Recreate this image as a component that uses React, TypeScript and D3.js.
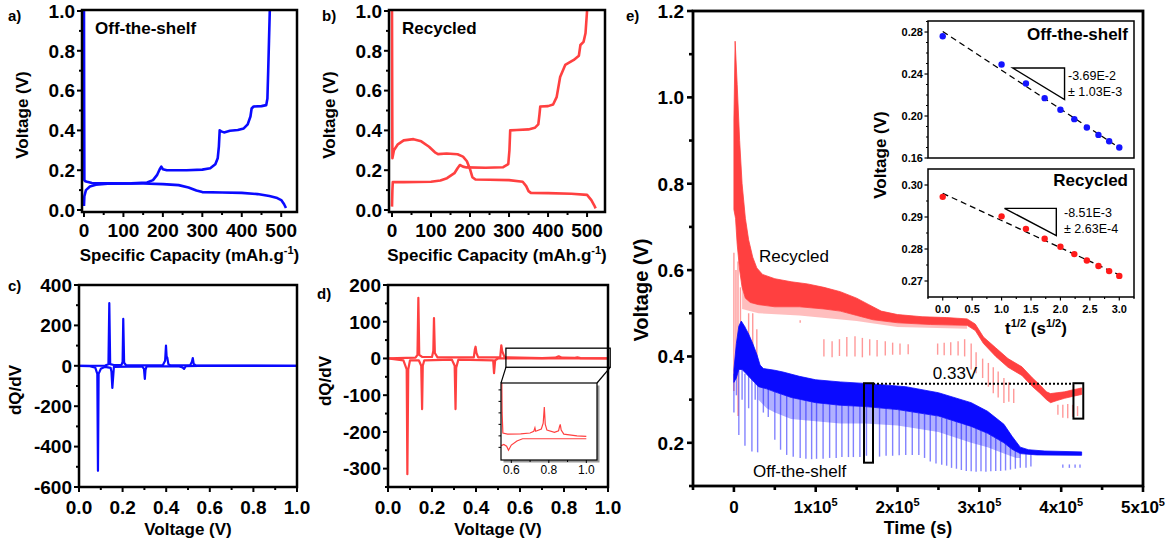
import React from 'react';
import * as d3 from 'd3';

const FONT = "'Liberation Sans', Arial, Helvetica, sans-serif";
const BLUE = '#0a0aff';
const RED = '#ff4040';
const LIGHT_BLUE = 'rgba(30,30,255,0.55)';
const LIGHT_RED = 'rgba(255,70,70,0.55)';
const FRINGE_BLUE = 'rgba(30,30,255,0.35)';
const FRINGE_RED = 'rgba(255,70,70,0.35)';

type P = [number, number];

// ---------- a) Off-the-shelf: capacity (mAh/g) vs voltage ----------
const offCharge: P[] = [[0, 0.02], [1, 0.07], [5, 0.1], [15, 0.118], [30, 0.127], [60, 0.132], [120, 0.134], [160, 0.138], [175, 0.15], [185, 0.175], [192, 0.205], [196, 0.218], [200, 0.205], [210, 0.2], [260, 0.2], [300, 0.203], [320, 0.21], [333, 0.23], [339, 0.26], [342, 0.32], [344, 0.4], [348, 0.395], [355, 0.39], [370, 0.398], [390, 0.402], [405, 0.41], [415, 0.43], [422, 0.47], [425, 0.51], [430, 0.52], [450, 0.522], [462, 0.527], [465, 0.56], [467, 0.7], [469, 0.85], [471, 1.0]];
const offDischarge: P[] = [[0, 1.0], [0.5, 0.5], [1, 0.15], [3, 0.145], [8, 0.142], [20, 0.136], [60, 0.134], [150, 0.133], [200, 0.13], [240, 0.125], [265, 0.113], [285, 0.098], [300, 0.09], [350, 0.088], [400, 0.086], [440, 0.08], [470, 0.07], [490, 0.06], [500, 0.05], [507, 0.03], [512, 0.01]];

// ---------- b) Recycled ----------
const recCharge: P[] = [[0, 0.017], [1, 0.1], [2, 0.14], [30, 0.14], [100, 0.142], [124, 0.148], [141, 0.16], [160, 0.185], [168, 0.21], [174, 0.226], [182, 0.218], [191, 0.214], [240, 0.212], [285, 0.215], [298, 0.23], [301, 0.3], [303, 0.4], [320, 0.402], [350, 0.405], [366, 0.413], [375, 0.43], [378, 0.48], [380, 0.52], [400, 0.522], [413, 0.53], [422, 0.567], [431, 0.668], [444, 0.729], [466, 0.754], [479, 0.775], [483, 0.829], [491, 0.845], [496, 0.888], [500, 1.0]];
const recDischarge: P[] = [[0, 1.0], [0.5, 0.6], [1, 0.26], [5, 0.3], [15, 0.33], [30, 0.35], [55, 0.356], [75, 0.345], [95, 0.318], [110, 0.29], [118, 0.281], [140, 0.284], [168, 0.28], [182, 0.268], [192, 0.245], [200, 0.205], [206, 0.165], [214, 0.153], [250, 0.152], [300, 0.15], [335, 0.142], [344, 0.12], [350, 0.095], [356, 0.086], [400, 0.085], [460, 0.082], [500, 0.076], [511, 0.05], [518, 0.025], [522, 0.008]];

const capTicks = [0, 100, 200, 300, 400, 500];
const capMinor = [50, 150, 250, 350, 450];
const voltTicks = [0, 0.2, 0.4, 0.6, 0.8, 1.0];
const voltMinor = [0.1, 0.3, 0.5, 0.7, 0.9];

// ---------- c) dQ/dV off-the-shelf ----------
const cCharge: P[] = [[0, 0], [0.12, 1], [0.135, 8], [0.139, 310], [0.143, 8], [0.16, 4], [0.195, 5], [0.2, 20], [0.203, 232], [0.207, 15], [0.215, 4], [0.3, 2], [0.385, 4], [0.395, 25], [0.399, 100], [0.402, 45], [0.405, 40], [0.41, 8], [0.42, 2], [0.51, 3], [0.518, 20], [0.522, 38], [0.526, 10], [0.535, 2], [1.0, 0]];
const cDischarge: P[] = [[1.0, 0], [0.55, 0], [0.49, -2], [0.482, -15], [0.475, -8], [0.46, -3], [0.31, -3], [0.305, -20], [0.302, -65], [0.298, -15], [0.29, -3], [0.16, -5], [0.153, -110], [0.149, -30], [0.145, -10], [0.12, -5], [0.1, -15], [0.09, -40], [0.087, -520], [0.084, -40], [0.075, -10], [0.05, -2], [0.0, 0]];
const cTicks = [-600, -400, -200, 0, 200, 400];
const cMinor = [-500, -300, -100, 100, 300];
const vTicks01 = [0, 0.2, 0.4, 0.6, 0.8, 1.0];
const vMinor01 = [0.1, 0.3, 0.5, 0.7, 0.9];

// ---------- d) dQ/dV recycled ----------
const dCharge: P[] = [[0, 0], [0.125, 2], [0.134, 10], [0.138, 165], [0.142, 10], [0.155, 4], [0.2, 4], [0.206, 20], [0.209, 110], [0.213, 15], [0.225, 3], [0.39, 3], [0.395, 25], [0.398, 32], [0.402, 15], [0.41, 3], [0.51, 3], [0.515, 36], [0.519, 20], [0.53, 3], [0.7, 1], [0.76, 2], [0.776, 6], [0.79, 2], [0.85, 1.5], [0.861, 3], [0.875, 1], [1.0, 0]];
const dDischarge: P[] = [[1.0, 0], [0.5, 0], [0.487, -5], [0.482, -40], [0.478, -5], [0.32, -3], [0.31, -25], [0.307, -138], [0.303, -20], [0.29, -3], [0.165, -5], [0.158, -20], [0.155, -138], [0.151, -20], [0.14, -5], [0.1, -5], [0.092, -30], [0.088, -315], [0.085, -30], [0.07, -5], [0, 0]];
const dTicks = [-300, -200, -100, 0, 100, 200];
const dMinor = [-350, -250, -150, -50, 50, 150];
const dInsetCharge: P[] = [[0.548, 14], [0.551, 4], [0.555, 0.5], [0.58, 0.3], [0.65, 0.35], [0.7, 0.5], [0.72, 0.8], [0.726, 1.4], [0.73, 0.8], [0.76, 1.2], [0.77, 2.2], [0.776, 5], [0.781, 2], [0.79, 1], [0.83, 0.6], [0.852, 0.9], [0.857, 1.6], [0.861, 2.0], [0.866, 1.0], [0.88, 0.3], [0.95, 0], [1.0, -0.1]];
const dInsetDischarge: P[] = [[1.0, -0.5], [0.8, -0.5], [0.66, -0.5], [0.63, -0.9], [0.6, -1.6], [0.585, -2.5], [0.575, -1.8], [0.56, -1.5], [0.546, -1.7]];
const dZoomBox = { v0: 0.536, v1: 1.01, q0: -24, q1: 28 };
const dInsetTicks = [0.6, 0.8, 1.0];
const dInsetYTicks = [-2, 0, 2, 4, 6, 8];

// ---------- e) voltage vs time ----------
const blueUpper: P[] = [[0, 0.37], [3e3, 0.43], [6e3, 0.47], [9e3, 0.482], [1.3e4, 0.47], [1.8e4, 0.452], [2.3e4, 0.43], [2.8e4, 0.405], [3.2e4, 0.38], [3.6e4, 0.372], [5e4, 0.368], [6e4, 0.364], [8e4, 0.354], [1e5, 0.346], [1.3e5, 0.341], [1.65e5, 0.337], [2.1e5, 0.33], [2.5e5, 0.316], [2.9e5, 0.293], [3.1e5, 0.273], [3.3e5, 0.243], [3.4e5, 0.215], [3.5e5, 0.19], [3.6e5, 0.184], [3.8e5, 0.181], [4.25e5, 0.179]];
const blueLower: P[] = [[0, 0.34], [3e3, 0.35], [6e3, 0.37], [1e4, 0.37], [1.5e4, 0.36], [2e4, 0.35], [2.5e4, 0.34], [3e4, 0.33], [4e4, 0.325], [5e4, 0.318], [7e4, 0.305], [1e5, 0.293], [1.3e5, 0.287], [1.6e5, 0.284], [2e5, 0.277], [2.5e5, 0.262], [2.9e5, 0.238], [3.1e5, 0.222], [3.3e5, 0.2], [3.4e5, 0.185], [3.5e5, 0.175], [3.7e5, 0.172], [4.25e5, 0.171]];
const blueFringe: P[] = [[3e4, 0.3], [4e4, 0.28], [5e4, 0.27], [7e4, 0.255], [1e5, 0.25], [1.3e5, 0.245], [1.6e5, 0.245], [2e5, 0.24], [2.5e5, 0.225], [2.9e5, 0.2], [3.1e5, 0.19], [3.3e5, 0.175], [3.45e5, 0.165], [3.5e5, 0.165]];
// [time, top V, bottom V]
const blueSpikes: [number, number, number][] = [[0, 0.36, 0.27], [3e3, 0.36, 0.31], [6e3, 0.37, 0.218], [1e4, 0.37, 0.3], [1.35e4, 0.36, 0.193], [1.8e4, 0.36, 0.28], [2.2e4, 0.35, 0.18], [2.6e4, 0.345, 0.3], [2.9e4, 0.34, 0.178], [3.6e4, 0.33, 0.27], [4.2e4, 0.325, 0.26], [5e4, 0.32, 0.207], [5.7e4, 0.315, 0.184], [6.45e4, 0.31, 0.172], [7.25e4, 0.305, 0.168], [8.1e4, 0.3, 0.165], [8.8e4, 0.298, 0.163], [9.5e4, 0.295, 0.162], [1.01e5, 0.293, 0.163], [1.09e5, 0.291, 0.163], [1.17e5, 0.289, 0.165], [1.25e5, 0.288, 0.165], [1.32e5, 0.287, 0.167], [1.4e5, 0.286, 0.167], [1.46e5, 0.286, 0.167], [1.54e5, 0.285, 0.167], [1.62e5, 0.284, 0.17], [1.7e5, 0.283, 0.168], [1.78e5, 0.281, 0.168], [1.86e5, 0.28, 0.17], [1.94e5, 0.279, 0.17], [2.02e5, 0.277, 0.171], [2.1e5, 0.275, 0.172], [2.18e5, 0.272, 0.172], [2.26e5, 0.269, 0.172], [2.33e5, 0.267, 0.165], [2.4e5, 0.265, 0.157], [2.47e5, 0.262, 0.152], [2.54e5, 0.258, 0.149], [2.6e5, 0.255, 0.147], [2.66e5, 0.252, 0.142], [2.72e5, 0.249, 0.14], [2.78e5, 0.245, 0.137], [2.84e5, 0.242, 0.135], [2.9e5, 0.238, 0.134], [2.96e5, 0.234, 0.133], [3.02e5, 0.229, 0.134], [3.08e5, 0.224, 0.133], [3.14e5, 0.218, 0.134], [3.2e5, 0.212, 0.135], [3.26e5, 0.205, 0.135], [3.32e5, 0.198, 0.136], [3.38e5, 0.19, 0.138], [3.44e5, 0.182, 0.14], [3.5e5, 0.176, 0.142], [3.57e5, 0.174, 0.142], [3.63e5, 0.173, 0.145], [4.02e5, 0.15, 0.142], [4.1e5, 0.15, 0.142], [4.17e5, 0.15, 0.142], [4.23e5, 0.15, 0.142]];

const redUpper: P[] = [[0, 0.95], [1.5e3, 1.13], [4e3, 1.03], [7e3, 0.9], [1.0e4, 0.8], [1.4e4, 0.72], [1.8e4, 0.67], [2.3e4, 0.63], [2.8e4, 0.605], [3.5e4, 0.59], [5e4, 0.58], [7e4, 0.573], [9e4, 0.568], [1.1e5, 0.56], [1.3e5, 0.55], [1.5e5, 0.535], [1.65e5, 0.52], [1.8e5, 0.505], [2e5, 0.497], [2.3e5, 0.492], [2.6e5, 0.49], [2.85e5, 0.487], [2.95e5, 0.475], [3.05e5, 0.445], [3.2e5, 0.42], [3.35e5, 0.395], [3.52e5, 0.376], [3.65e5, 0.35], [3.74e5, 0.334], [3.82e5, 0.318], [3.87e5, 0.314], [3.95e5, 0.316], [4.04e5, 0.318], [4.15e5, 0.323], [4.25e5, 0.327]];
const redLower: P[] = [[0, 0.74], [2e3, 0.72], [4e3, 0.66], [7e3, 0.6], [1e4, 0.56], [1.4e4, 0.535], [2e4, 0.525], [3e4, 0.52], [5e4, 0.515], [8e4, 0.515], [1.1e5, 0.51], [1.3e5, 0.505], [1.5e5, 0.495], [1.7e5, 0.485], [2e5, 0.478], [2.4e5, 0.474], [2.85e5, 0.472], [2.95e5, 0.46], [3.05e5, 0.43], [3.2e5, 0.4], [3.35e5, 0.375], [3.52e5, 0.356], [3.65e5, 0.33], [3.74e5, 0.315], [3.82e5, 0.3], [3.87e5, 0.293], [3.95e5, 0.298], [4.04e5, 0.303], [4.15e5, 0.308], [4.25e5, 0.312]];
const redFringe: P[] = [[1e4, 0.51], [3e4, 0.5], [8e4, 0.495], [1.5e5, 0.482], [2e5, 0.468], [2.85e5, 0.464]];
const redSpikes: [number, number, number][] = [[0, 0.64, 0.32], [2.5e3, 0.6, 0.36], [5e3, 0.62, 0.262], [8e3, 0.56, 0.37], [1.3e4, 0.47, 0.397], [1.8e4, 0.5, 0.41], [2.3e4, 0.5, 0.42], [2.8e4, 0.463, 0.397], [8.1e4, 0.484, 0.478], [1.1e5, 0.44, 0.4], [1.2e5, 0.435, 0.398], [1.29e5, 0.44, 0.401], [1.38e5, 0.445, 0.4], [1.48e5, 0.447, 0.4], [1.57e5, 0.443, 0.398], [1.66e5, 0.44, 0.402], [1.75e5, 0.438, 0.4], [1.85e5, 0.435, 0.402], [1.94e5, 0.432, 0.404], [2.03e5, 0.43, 0.404], [2.13e5, 0.428, 0.405], [2.49e5, 0.43, 0.404], [2.57e5, 0.432, 0.403], [2.65e5, 0.433, 0.403], [2.74e5, 0.435, 0.402], [2.82e5, 0.44, 0.4], [2.9e5, 0.43, 0.37], [2.96e5, 0.41, 0.361], [3.04e5, 0.395, 0.35], [3.11e5, 0.385, 0.33], [3.17e5, 0.375, 0.315], [3.23e5, 0.365, 0.305], [3.3e5, 0.35, 0.292], [3.36e5, 0.34, 0.295], [3.42e5, 0.325, 0.292], [3.96e5, 0.288, 0.265], [4.02e5, 0.288, 0.258], [4.08e5, 0.29, 0.257], [4.14e5, 0.288, 0.26], [4.2e5, 0.285, 0.262]];

const timeTicks = [0, 1e5, 2e5, 3e5, 4e5, 5e5];
const timeMinor = [-5e4, 5e4, 1.5e5, 2.5e5, 3.5e5, 4.5e5];
const eVTicks = [0.2, 0.4, 0.6, 0.8, 1.0, 1.2];
const eVMinor = [0.1, 0.3, 0.5, 0.7, 0.9, 1.1];
const dottedV = 0.337;
const markBoxes = [{ t0: 1.59e5, t1: 1.7e5, v0: 0.154, v1: 0.338 }, { t0: 4.15e5, t1: 4.27e5, v0: 0.256, v1: 0.338 }];

// ---------- e) insets ----------
const sqrtT = [0, 1, 1.414, 1.732, 2, 2.236, 2.449, 2.646, 2.828, 3];
const offInsetV = [0.276, 0.249, 0.231, 0.217, 0.206, 0.197, 0.189, 0.182, 0.176, 0.170];
const recInsetV = [0.2963, 0.2902, 0.2863, 0.2832, 0.2807, 0.2784, 0.2764, 0.2747, 0.2731, 0.2716];
const offFit: P[] = [[0, 0.2805], [3, 0.1698]];
const recFit: P[] = [[0, 0.2974], [3, 0.2719]];
const offTri: P[] = [[1.19, 0.2457], [2.07, 0.2457], [2.07, 0.2157]];
const recTri: P[] = [[1.05, 0.2927], [1.93, 0.2927], [1.93, 0.2842]];
const offInsetTicks = [0.16, 0.2, 0.24, 0.28];
const offInsetMinor = [0.17, 0.18, 0.19, 0.21, 0.22, 0.23, 0.25, 0.26, 0.27, 0.29];
const recInsetTicks = [0.27, 0.28, 0.29, 0.3];
const recInsetMinor = [0.275, 0.285, 0.295];
const sqrtTicks = [0, 0.5, 1, 1.5, 2, 2.5, 3];
const sqrtMinor = [-0.25, 0.25, 0.75, 1.25, 1.75, 2.25, 2.75, 3.25];

type Scale = (v: number) => number;

const TICK_FS = 19;

function YAxis({ s, x, major, minor, fmt, fs = TICK_FS, len = 5, mlen = 3, sw = 2, gap = 2, weight = 'bold' }: any) {
  return (
    <g>
      {major.map((v: number) => <line key={'M' + v} x1={x} x2={x - len} y1={s(v)} y2={s(v)} stroke="#000" strokeWidth={sw} />)}
      {minor.map((v: number) => <line key={'m' + v} x1={x} x2={x - mlen} y1={s(v)} y2={s(v)} stroke="#000" strokeWidth={sw} />)}
      {fmt && major.map((v: number) => (
        <text key={'t' + v} x={x - len - gap} y={s(v)} dy="0.36em" textAnchor="end" fontSize={fs} fontWeight={weight}>{fmt(v)}</text>
      ))}
    </g>
  );
}

function XAxis({ s, y, major, minor, fmt, fs = TICK_FS, len = 5, mlen = 3, sw = 2, ty, weight = 'bold' }: any) {
  return (
    <g>
      {major.map((v: number) => <line key={'M' + v} x1={s(v)} x2={s(v)} y1={y} y2={y + len} stroke="#000" strokeWidth={sw} />)}
      {minor.map((v: number) => <line key={'m' + v} x1={s(v)} x2={s(v)} y1={y} y2={y + mlen} stroke="#000" strokeWidth={sw} />)}
      {fmt && major.map((v: number) => (
        <text key={'t' + v} x={s(v)} y={ty} textAnchor="middle" fontSize={fs} fontWeight={weight}>{fmt(v)}</text>
      ))}
    </g>
  );
}

function Frame({ x0, x1, y0, y1, sw = 2.5 }: any) {
  return <rect x={x0} y={y0} width={x1 - x0} height={y1 - y0} fill="none" stroke="#000" strokeWidth={sw} />;
}

const f1 = (v: number) => v.toFixed(1);
const f0 = (v: number) => String(v);
const f2 = (v: number) => v.toFixed(2);

function CapacityPanel({ x0, x1, xDom, charge, discharge, color, label, letter, letterX }: any) {
  const y0 = 10, y1 = 212;
  const xs = d3.scaleLinear().domain(xDom).range([x0, x1]);
  const ys = d3.scaleLinear().domain([-0.01, 1.005]).range([y1, y0]);
  const line = d3.line<P>().x(d => xs(d[0])).y(d => ys(d[1]));
  const cx = (x0 + x1) / 2;
  return (
    <g>
      <path d={line(charge) || ''} fill="none" stroke={color} strokeWidth={2.6} strokeLinejoin="round" />
      <path d={line(discharge) || ''} fill="none" stroke={color} strokeWidth={2.6} strokeLinejoin="round" />
      <Frame x0={x0} x1={x1} y0={y0} y1={y1} />
      <YAxis s={ys} x={x0} major={voltTicks} minor={voltMinor} fmt={f1} />
      <XAxis s={xs} y={y1} major={capTicks} minor={capMinor} fmt={f0} ty={237} />
      <text x={x0 + 13} y={34} fontSize={17} fontWeight="bold">{label}</text>
      <text x={cx} y={261} textAnchor="middle" fontSize={17} fontWeight="bold">Specific Capacity (mAh.g<tspan dy={-7} fontSize={11}>-1</tspan><tspan dy={7}>)</tspan></text>
      <text transform={`translate(${x0 - 60},115) rotate(-90)`} textAnchor="middle" dy="0.35em" fontSize={17} fontWeight="bold">Voltage (V)</text>
      <text x={letterX} y={21} fontSize={15} fontWeight="bold">{letter}</text>
    </g>
  );
}

function DqPanel({ x0, x1, yDom, major, minor, charge, discharge, color, letter, letterX, letterY, titleX, titleY, children }: any) {
  const y0 = 285, y1 = 487;
  const xs = d3.scaleLinear().domain([0, 1]).range([x0, x1]);
  const ys = d3.scaleLinear().domain(yDom).range([y1, y0]);
  const line = d3.line<P>().x(d => xs(d[0])).y(d => ys(d[1]));
  return (
    <g>
      <path d={line(discharge) || ''} fill="none" stroke={color} strokeWidth={2.2} strokeLinejoin="round" />
      <path d={line(charge) || ''} fill="none" stroke={color} strokeWidth={2.2} strokeLinejoin="round" />
      <Frame x0={x0} x1={x1} y0={y0} y1={y1} />
      <YAxis s={ys} x={x0} major={major} minor={minor} fmt={f0} />
      <XAxis s={xs} y={y1} major={vTicks01} minor={vMinor01} fmt={f1} ty={514} />
      <text x={(x0 + x1) / 2} y={535} textAnchor="middle" fontSize={17} fontWeight="bold">Voltage (V)</text>
      <text transform={`translate(${titleX},${titleY}) rotate(-90)`} textAnchor="middle" dy="0.35em" fontSize={17} fontWeight="bold">dQ/dV</text>
      <text x={letterX} y={letterY} fontSize={15} fontWeight="bold">{letter}</text>
      {children && children(xs, ys)}
    </g>
  );
}

function DInset({ xs, ys }: { xs: Scale; ys: Scale }) {
  const bx0 = xs(dZoomBox.v0), bx1 = xs(dZoomBox.v1), by0 = ys(dZoomBox.q1), by1 = ys(dZoomBox.q0);
  const ix0 = 501, ix1 = 597, iy0 = 383, iy1 = 460;
  const ixs = d3.scaleLinear().domain([0.545, 1.057]).range([ix0, ix1]);
  const iys = d3.scaleLinear().domain([-4.2, 9.2]).range([iy1, iy0]);
  const line = d3.line<P>().x(d => ixs(d[0])).y(d => iys(d[1]));
  return (
    <g>
      <rect x={bx0} y={by0} width={bx1 - bx0} height={by1 - by0} fill="none" stroke="#000" strokeWidth={1.3} />
      <line x1={bx0} y1={by1} x2={ix0} y2={iy0} stroke="#000" strokeWidth={1.2} />
      <line x1={bx1} y1={by1} x2={ix1} y2={iy0} stroke="#000" strokeWidth={1.2} />
      <rect x={ix0 + 2.5} y={iy0 + 2.5} width={ix1 - ix0} height={iy1 - iy0} fill="#9a9a9a" />
      <rect x={ix0} y={iy0} width={ix1 - ix0} height={iy1 - iy0} fill="#fff" />
      <clipPath id="dinsetclip"><rect x={ix0} y={iy0} width={ix1 - ix0} height={iy1 - iy0} /></clipPath>
      <g clipPath="url(#dinsetclip)">
        <path d={line(dInsetDischarge) || ''} fill="none" stroke={RED} strokeWidth={1.2} />
        <path d={line(dInsetCharge) || ''} fill="none" stroke={RED} strokeWidth={1.2} />
      </g>
      <rect x={ix0} y={iy0} width={ix1 - ix0} height={iy1 - iy0} fill="none" stroke="#000" strokeWidth={1.2} />
      <YAxis s={iys} x={ix0} major={dInsetYTicks} minor={[]} len={2.5} sw={1} />
      <XAxis s={ixs} y={iy1} major={dInsetTicks} minor={[0.7, 0.9]} len={3} mlen={2} sw={1} fmt={f1} fs={12} ty={iy1 + 14} weight="normal" />
    </g>
  );
}

function TimePanel() {
  const x0 = 693, x1 = 1143, y0 = 11, y1 = 486;
  const xs = d3.scaleLinear().domain([-5e4, 5e5]).range([x0, x1]);
  const ys = d3.scaleLinear().domain([0.1, 1.2]).range([y1, y0]);
  const line = d3.line<P>().x(d => xs(d[0])).y(d => ys(d[1]));
  const band = (up: P[], lo: P[]) => (line([...up, ...lo.slice().reverse()]) || '') + 'Z';
  const blueFringeTop = blueLower.filter(p => p[0] >= 3e4 && p[0] <= 3.5e5);
  const redFringeTop = redLower.filter(p => p[0] >= 1e4 && p[0] <= 2.85e5);
  const tfmt = (v: number) => v === 0 ? '0' : <>{`${v / 1e5}x10`}<tspan dy={-7} fontSize={11}>5</tspan></>;
  return (
    <g>
      {/* red (recycled) */}
      <path d={band(redFringeTop, redFringe)} fill={FRINGE_RED} />
      {redSpikes.map((s, i) => <line key={'rs' + i} x1={xs(s[0])} x2={xs(s[0])} y1={ys(s[1])} y2={ys(s[2])} stroke={LIGHT_RED} strokeWidth={1.4} />)}
      <path d={band(redUpper, redLower)} fill={RED} stroke={RED} strokeWidth={0.8} />
      {/* blue (off-the-shelf) */}
      <path d={band(blueFringeTop, blueFringe)} fill={FRINGE_BLUE} />
      {blueSpikes.map((s, i) => <line key={'bs' + i} x1={xs(s[0])} x2={xs(s[0])} y1={ys(s[1])} y2={ys(s[2])} stroke={LIGHT_BLUE} strokeWidth={1.4} />)}
      <path d={band(blueUpper, blueLower)} fill={BLUE} stroke={BLUE} strokeWidth={0.8} />
      {/* marks */}
      <line x1={xs(markBoxes[0].t1)} x2={xs(markBoxes[1].t0)} y1={ys(dottedV)} y2={ys(dottedV)} stroke="#000" strokeWidth={2} strokeDasharray="2,2" />
      {markBoxes.map((b, i) => (
        <rect key={'mb' + i} x={xs(b.t0)} y={ys(b.v1)} width={xs(b.t1) - xs(b.t0)} height={ys(b.v0) - ys(b.v1)} fill="none" stroke="#000" strokeWidth={2} />
      ))}
      <text x={955} y={379} textAnchor="middle" fontSize={17}>0.33V</text>
      <text x={759} y={262} fontSize={17}>Recycled</text>
      <text x={753} y={477} fontSize={17}>Off-the-shelf</text>
      <Frame x0={x0} x1={x1} y0={y0} y1={y1} sw={2.8} />
      <YAxis s={ys} x={x0} major={eVTicks} minor={eVMinor} fmt={f1} fs={19} len={6} mlen={4} sw={2.6} gap={3} />
      <XAxis s={xs} y={y1} major={timeTicks} minor={timeMinor} fmt={tfmt} fs={17} len={6} mlen={4} sw={2.6} ty={513} />
      <text x={(x0 + x1) / 2} y={534} textAnchor="middle" fontSize={18} fontWeight="bold">Time (s)</text>
      <text transform={`translate(641,290) rotate(-90)`} textAnchor="middle" dy="0.35em" fontSize={20} fontWeight="bold">Voltage (V)</text>
      <text x={626} y={21} fontSize={15} fontWeight="bold">e)</text>
      <Insets />
    </g>
  );
}

function Inset({ y0, y1, yDom, vals, fit, tri, color, title, titleY, major, minor, fmt, slope, err, textX, textY, showX }: any) {
  const x0 = 928, x1 = 1134;
  const xs = d3.scaleLinear().domain([-0.25, 3.25]).range([x0, x1]);
  const ys = d3.scaleLinear().domain(yDom).range([y1, y0]);
  const line = d3.line<P>().x(d => xs(d[0])).y(d => ys(d[1]));
  return (
    <g>
      <rect x={x0} y={y0} width={x1 - x0} height={y1 - y0} fill="#fff" stroke="#000" strokeWidth={1.5} />
      <path d={line(fit) || ''} fill="none" stroke="#000" strokeWidth={1.3} strokeDasharray="6,4" />
      <path d={(line(tri) || '') + 'Z'} fill="none" stroke="#000" strokeWidth={1.4} />
      {vals.map((v: number, i: number) => <circle key={i} cx={xs(sqrtT[i])} cy={ys(v)} r={3.2} fill={color} />)}
      <YAxis s={ys} x={x0} major={major} minor={minor} fmt={fmt} fs={11} len={3.5} mlen={2} sw={1.2} gap={1.5} />
      {showX && <XAxis s={xs} y={y1} major={sqrtTicks} minor={sqrtMinor} fmt={f1} fs={11} len={3.5} mlen={2} sw={1.2} ty={313} />}
      <text x={1128} y={titleY} textAnchor="end" fontSize={17} fontWeight="bold">{title}</text>
      <text x={textX} y={textY} fontSize={12.5}>{slope}</text>
      <text x={textX} y={textY + 16} fontSize={12.5}>{err}</text>
    </g>
  );
}

function Insets() {
  return (
    <g>
      <Inset y0={21} y1={158} yDom={[0.16, 0.2905]} vals={offInsetV} fit={offFit} tri={offTri} color="#1414ff" title="Off-the-shelf" titleY={40}
        major={offInsetTicks} minor={offInsetMinor} fmt={f2} slope="-3.69E-2" err="± 1.03E-3" textX={1068} textY={80} showX={false} />
      <Inset y0={169} y1={297} yDom={[0.265, 0.305]} vals={recInsetV} fit={recFit} tri={recTri} color="#ff1a1a" title="Recycled" titleY={186}
        major={recInsetTicks} minor={recInsetMinor} fmt={f2} slope="-8.51E-3" err="± 2.63E-4" textX={1064} textY={217} showX={true} />
      <text x={1036} y={334} textAnchor="middle" fontSize={17} fontWeight="bold">t<tspan dy={-7} fontSize={11}>1/2</tspan><tspan dy={7}> (s</tspan><tspan dy={-7} fontSize={11}>1/2</tspan><tspan dy={7}>)</tspan></text>
      <text transform={`translate(880,155) rotate(-90)`} textAnchor="middle" dy="0.35em" fontSize={17} fontWeight="bold">Voltage (V)</text>
    </g>
  );
}

export default function App() {
  return (
    <svg width={1176} height={544} viewBox="0 0 1176 544" style={{ position: 'absolute', left: 0, top: 0, background: '#fff' }} fontFamily={FONT}>
      <rect x={0} y={0} width={1176} height={544} fill="#fff" />
      <CapacityPanel x0={82} x1={297} xDom={[-5, 540]} charge={offCharge} discharge={offDischarge} color={BLUE} label="Off-the-shelf" letter="a)" letterX={8} />
      <CapacityPanel x0={389} x1={605} xDom={[-7.7, 546]} charge={recCharge} discharge={recDischarge} color={RED} label="Recycled" letter="b)" letterX={322} />
      <DqPanel x0={79} x1={297} yDom={[-600, 400]} major={cTicks} minor={cMinor} charge={cCharge} discharge={cDischarge} color={BLUE} letter="c)" letterX={8} letterY={291} titleX={15} titleY={390} />
      <DqPanel x0={388} x1={608} yDom={[-350, 200]} major={dTicks} minor={dMinor} charge={dCharge} discharge={dDischarge} color={RED} letter="d)" letterX={317} letterY={299} titleX={325} titleY={381}>
        {(xs: Scale, ys: Scale) => <DInset xs={xs} ys={ys} />}
      </DqPanel>
      <TimePanel />
    </svg>
  );
}
